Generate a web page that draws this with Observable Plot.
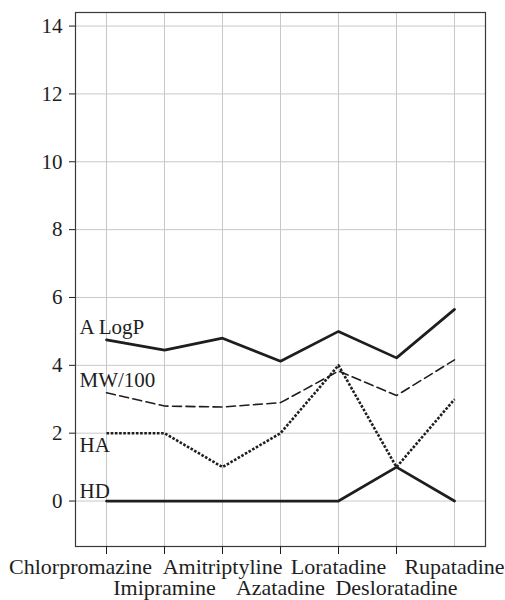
<!DOCTYPE html>
<html>
<head>
<meta charset="utf-8">
<script src="https://cdn.jsdelivr.net/npm/d3@7"></script>
<script src="https://cdn.jsdelivr.net/npm/@observablehq/plot@0.6"></script>
<style>
  body { margin: 0; background: #fff; }
  #chart { width: 505px; height: 600px; }
  #chart svg, #chart svg text { font-family: "Liberation Serif", "Times New Roman", serif !important; }
</style>
</head>
<body>
<div id="chart"></div>
<script>
const drugs = ["Chlorpromazine", "Imipramine", "Amitriptyline", "Azatadine", "Loratadine", "Desloratadine", "Rupatadine"];
const aLogP = [4.75, 4.45, 4.8, 4.12, 5.0, 4.22, 5.65];
const mw100 = [3.19, 2.80, 2.77, 2.90, 3.83, 3.11, 4.16];
const ha = [2, 2, 1, 2, 4, 1, 3];
const hd = [0, 0, 0, 0, 0, 1, 0];
const yTicks = [0, 2, 4, 6, 8, 10, 12, 14];
const seriesNames = ["A LogP", "MW/100", "HA", "HD"];

const toRows = (vals) => drugs.map((d, i) => ({drug: d, value: vals[i]}));
const rowsA = toRows(aLogP), rowsM = toRows(mw100), rowsHA = toRows(ha), rowsHD = toRows(hd);

const firstLabel = drugs.slice(0, 1);
const row1 = drugs.filter((d, i) => i % 2 === 0 && i > 0);
const row2 = drugs.filter((d, i) => i % 2 === 1);
const tickDrugs = drugs.slice(0, drugs.length - 1);
const ink = "#1e1e1e";
const serif = "Liberation Serif";
const labelStyle = {textAnchor: "start", fontSize: 21, fontFamily: serif, fill: ink, dx: -27, lineAnchor: "bottom"};
const xLab = {x: (d) => d, text: (d) => d, frameAnchor: "bottom", lineAnchor: "middle", fontSize: 22, fontFamily: serif, fill: ink};

const chart = Plot.plot({
  width: 505,
  height: 600,
  marginLeft: 75,
  marginRight: 20,
  marginTop: 12,
  marginBottom: 54,
  style: {fontFamily: "'Liberation Serif', 'Times New Roman', serif", fontSize: "21px", color: ink, background: "#fff"},
  x: {type: "point", domain: drugs, padding: 0.5, axis: null, label: null},
  y: {domain: [-1.34, 14.4], axis: null, label: null},
  marks: [
    Plot.gridX(drugs, {stroke: "#c8c8c8", strokeOpacity: 1, strokeWidth: 1}),
    Plot.gridY(yTicks, {stroke: "#c8c8c8", strokeOpacity: 1, strokeWidth: 1}),
    Plot.frame({stroke: "#3a3a3a", strokeWidth: 1.2}),
    Plot.axisY(yTicks, {tickSize: 6, tickPadding: 7, fontSize: 21, fontFamily: serif, stroke: ink, fill: ink, label: null}),
    Plot.axisX(tickDrugs, {tickSize: 8, tickFormat: () => "", stroke: ink, label: null}),
    Plot.text(firstLabel, {...xLab, dy: 20, dx: -26}),
    Plot.text(row1, {...xLab, dy: 20}),
    Plot.text(row2, {...xLab, dy: 41}),
    Plot.line(rowsA, {x: "drug", y: "value", stroke: ink, strokeWidth: 2.7}),
    Plot.line(rowsM, {x: "drug", y: "value", stroke: ink, strokeWidth: 1.6, strokeDasharray: "9,4.5"}),
    Plot.line(rowsHA, {x: "drug", y: "value", stroke: ink, strokeWidth: 2.6, strokeDasharray: "2.6,1.6", strokeLinecap: "butt"}),
    Plot.line(rowsHD, {x: "drug", y: "value", stroke: ink, strokeWidth: 2.7}),
    Plot.text([rowsA[0]], {x: "drug", y: "value", text: () => seriesNames[0], ...labelStyle, dy: -6}),
    Plot.text([rowsM[0]], {x: "drug", y: "value", text: () => seriesNames[1], ...labelStyle, dy: -6}),
    Plot.text([rowsHA[0]], {x: "drug", y: "value", text: () => seriesNames[2], ...labelStyle, dy: 19}),
    Plot.text([rowsHD[0]], {x: "drug", y: "value", text: () => seriesNames[3], ...labelStyle, dy: -3})
  ]
});
document.getElementById("chart").appendChild(chart);
</script>
</body>
</html>
